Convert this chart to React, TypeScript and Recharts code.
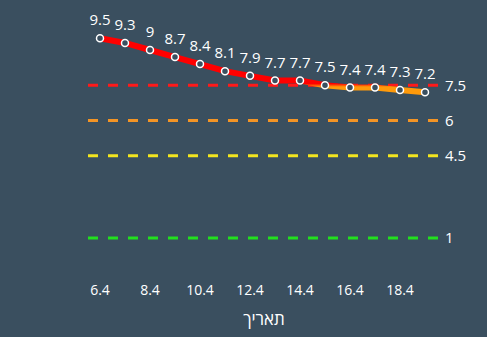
import React from 'react';
import {
  LineChart,
  Line,
  XAxis,
  YAxis,
  ReferenceLine,
  LabelList,
} from 'recharts';

const dates = ['6.4', '7.4', '8.4', '9.4', '10.4', '11.4', '12.4', '13.4', '14.4', '15.4', '16.4', '17.4', '18.4', '19.4'];
const values = [9.5, 9.3, 9, 8.7, 8.4, 8.1, 7.9, 7.7, 7.7, 7.5, 7.4, 7.4, 7.3, 7.2];
const thresholds = [
  { value: 7.5, color: '#ff1a1a' },
  { value: 6, color: '#f39425' },
  { value: 4.5, color: '#f2e51f' },
  { value: 1, color: '#22e01e' },
];

const data = dates.map((date, i) => ({ date, value: values[i] }));

const BG = '#3a4f5f';
const FONT = '"Open Sans", sans-serif';

// where 7.5 falls inside the line's own bounding box (top = max value)
const maxV = Math.max(...values);
const minV = Math.min(...values);
const splitAt = (maxV - thresholds[0].value) / (maxV - minV);

const App: React.FC = () => {
  return (
    <div style={{ position: 'absolute', left: 0, top: 0, width: 487, height: 337, background: BG, fontFamily: FONT }}>
      <LineChart
        width={487}
        height={337}
        data={data}
        margin={{ top: 26.5, right: 47, bottom: 15.5, left: 88 }}
      >
        <defs>
          <linearGradient id="lineGrad" x1="0" y1="0" x2="0" y2="1">
            <stop offset={splitAt - 0.03} stopColor="#ff0000" />
            <stop offset={splitAt + 0.03} stopColor="#ff9a0a" />
          </linearGradient>
        </defs>
        <XAxis
          dataKey="date"
          axisLine={false}
          tickLine={false}
          tickSize={0}
          tickMargin={24}
          height={60}
          interval={1}
          padding={{ left: 12, right: 15 }}
          tick={{ fill: '#ffffff', fontSize: 14, fontFamily: FONT }}
          label={{ value: 'תאריך', position: 'insideBottom', offset: -3, fill: '#ffffff', fontSize: 17, fontFamily: FONT }}
        />
        <YAxis hide domain={[0, 10]} />
        {thresholds.map((t) => (
          <ReferenceLine
            key={t.value}
            y={t.value}
            stroke={t.color}
            strokeWidth={3}
            strokeDasharray="10 10"
            label={{ value: String(t.value), position: 'right', fill: '#ffffff', fontSize: 15, fontFamily: FONT }}
          />
        ))}
        <Line
          type="linear"
          dataKey="value"
          stroke="url(#lineGrad)"
          strokeWidth={6}
          dot={{ r: 3.5, fill: BG, stroke: '#ffffff', strokeWidth: 1.5 }}
          isAnimationActive={false}
        >
          <LabelList dataKey="value" position="top" offset={13} fill="#ffffff" fontSize={15} fontFamily={FONT} />
        </Line>
      </LineChart>
    </div>
  );
};

export default App;
